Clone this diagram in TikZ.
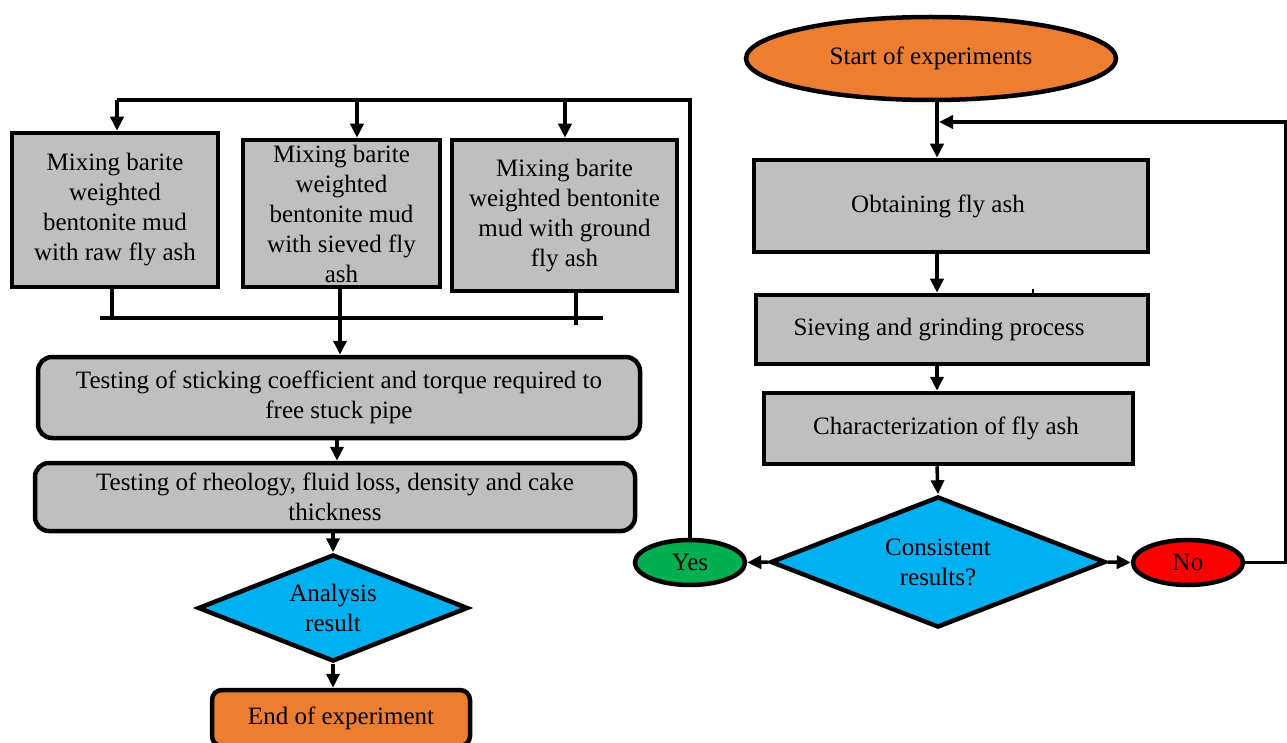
\documentclass[tikz,border=0pt]{standalone}
\usepackage{fontspec}
\setmainfont{Liberation Serif}
\usetikzlibrary{shapes.geometric,arrows.meta}
\definecolor{boxgray}{HTML}{BFBFBF}
\definecolor{orng}{HTML}{ED7D31}
\definecolor{cyanblue}{HTML}{00B0F0}
\definecolor{grn}{HTML}{00B050}
\definecolor{rd}{HTML}{FF0000}
\begin{document}
\begin{tikzpicture}[x=1pt,y=-1pt,
  every node/.style={font=\fontsize{25}{30}\selectfont, align=center, inner sep=0pt},
  base/.style={draw=black, line width=4.5pt},
  sqbox/.style={base, fill=boxgray, rectangle},
  rbox/.style={base, fill=boxgray, rectangle, rounded corners=14pt},
  dia/.style={base, fill=cyanblue, diamond, aspect=2.5},
  ell/.style={base, ellipse},
  conn/.style={line width=3.5pt},
  arr/.style={conn, -{Triangle[length=14pt,width=13pt]}}]
\useasboundingbox (0,0) rectangle (1287,743);
\fill[white] (0,0) rectangle (1287,743);

% left column
\node[sqbox, minimum width=206pt, minimum height=154pt] (b1) at (115,210)
  {Mixing barite\\weighted\\bentonite mud\\with raw fly ash};
\node[sqbox, minimum width=197pt, minimum height=147pt] (b2) at (341.5,213.5)
  {Mixing barite\\weighted\\bentonite mud\\with sieved fly\\ash};
\node[sqbox, minimum width=225pt, minimum height=151pt] (b3) at (564.5,215.5)
  {Mixing barite\\weighted bentonite\\mud with ground\\fly ash};
\node[rbox, minimum width=602pt, minimum height=81pt] (t1) at (339,397.5)
  {Testing of sticking coefficient and torque required to\\free stuck pipe};
\node[rbox, minimum width=600pt, minimum height=68pt] (t2) at (335,497)
  {Testing of rheology, fluid loss, density and cake\\thickness};
\node[dia, minimum width=270pt, minimum height=107pt] (ana) at (333,608)
  {Analysis\\result};
\node[base, fill=orng, rectangle, rounded corners=10pt, minimum width=258pt, minimum height=56pt] (end) at (341,718)
  {End of experiment};

% right column
\node[ell, fill=orng, minimum width=370pt, minimum height=83pt] (start) at (931,58.5)
  {Start of experiments};
\node[sqbox, minimum width=394pt, minimum height=92pt] (obt) at (951,206)
  {\hspace*{-26pt}Obtaining fly ash};
\node[sqbox, minimum width=392pt, minimum height=69pt] (sie) at (952,329.5)
  {\hspace*{-26pt}Sieving and grinding process};
\node[sqbox, minimum width=369pt, minimum height=71pt] (chr) at (948.5,428.5)
  {\hspace*{-5pt}Characterization of fly ash};
\node[dia, minimum width=335pt, minimum height=131pt] (con) at (938,562)
  {Consistent\\results?};
\node[ell, fill=grn, minimum width=110pt, minimum height=45pt] (yes) at (690,562.5) {Yes};
\node[ell, fill=rd, minimum width=110pt, minimum height=45pt] (no) at (1188,562.5) {No};

% coordinates
\coordinate (top1) at (117,100);
\coordinate (top2) at (357,100);
\coordinate (top3) at (565,100);
\coordinate (bar1) at (112,318);
\coordinate (barL) at (100,318);
\coordinate (barR) at (603,318);
\coordinate (m2) at (340,318);
\coordinate (m3) at (576,325);
\coordinate (vx) at (337,0);
\coordinate (rx) at (937,122);
\coordinate (fbend) at (939,122);

% left connectors
\draw[conn] (yes.north) |- (top1);
\draw[arr] (top1) -- (top1 |- b1.north);
\draw[arr] (top2) -- (top2 |- b2.north);
\draw[arr] (top3) -- (top3 |- b3.north);
\draw[conn] (barL) -- (barR);
\draw[conn] (bar1 |- b1.south) -- (bar1);
\draw[arr] (m2 |- b2.south) -- (m2 |- t1.north);
\draw[conn] (m3 |- b3.south) -- (m3);
\draw[arr] (vx |- t1.south) -- (vx |- t2.north);
\draw[arr] (t2.south -| ana.north) -- (ana.north);
\draw[arr] (ana.south) -- (ana.south |- end.north);

% right connectors
\draw[arr] (rx |- start.south) -- (rx |- obt.north);
\draw[arr] (rx |- obt.south) -- (rx |- sie.north);
\draw[arr] (rx |- sie.south) -- (rx |- chr.north);
\draw[arr] (rx |- chr.south) -- (con.north);
\draw[arr] (con.west) -- (yes.east);
\draw[arr] (con.east) -- (no.west);
\draw[arr] (no.east) -- ++(40,0) |- (fbend);
\draw[line width=2pt] (1033,289) -- (1033,297);
\end{tikzpicture}
\end{document}
